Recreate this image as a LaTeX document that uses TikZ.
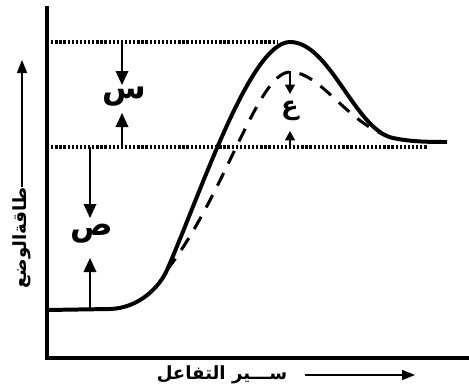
\documentclass[tikz,border=0pt]{standalone}
\usepackage{fontspec}
\newfontfamily\arabicfont[Script=Arabic]{DejaVu Sans}
\TeXXeTstate=1
\usetikzlibrary{arrows.meta, positioning, calc}
\tikzset{
    axis/.style={line width=3.2pt, line cap=rect},
    level/.style={line width=2.6pt, dash pattern=on 2pt off 1.5pt},
    mainpath/.style={line width=3.4pt, line join=round},
    catpath/.style={line width=2.6pt, dash pattern=on 12pt off 9pt},
    gap/.style={-{Triangle[length=4.2mm, width=3.8mm]}, line width=1.1pt},
    smallgap/.style={-{Triangle[length=2.8mm, width=3mm]}, line width=1.1pt},
    sym/.style={font=\arabicfont\bfseries\fontsize{27}{27}\selectfont, inner sep=0pt},
    axlbl/.style={font=\arabicfont\bfseries\fontsize{15.5}{15.5}\selectfont, inner sep=0pt},
    axarrow/.style={-{Triangle[length=3.9mm, width=3mm]}, line width=1.4pt},
}

\begin{document}
\begin{tikzpicture}[x=0.03cm, y=-0.03cm]
    \useasboundingbox (0,0) rectangle (469,390);

    % Axes
    \coordinate (O) at (47,358);
    \coordinate (Ytop) at (47,8);
    \coordinate (Xend) at (469,358);
    \draw[axis] (Ytop) -- (O) -- (Xend);

    % Energy levels
    \coordinate (hiL) at (47,42);
    \coordinate (hiR) at (277,42);
    \coordinate (prL) at (47,147);
    \coordinate (prR) at (427,147);
    \draw[level] (hiL) -- (hiR);
    \draw[level] (prL) -- (prR);

    % Reaction paths
    \draw[mainpath] (47,310) -- (110,309)
        .. controls (140,308) and (160,286) .. (167,270)
        .. controls (200,195) and (250,42) .. (290,42)
        .. controls (330,42) and (355,130) .. (393,138)
        .. controls (410,141.5) and (425,142) .. (447,142);
    \draw[catpath] (167,270)
        .. controls (225,195) and (258,72) .. (290,72)
        .. controls (320,72) and (345,120) .. (387,136);

    % Gaps
    \coordinate (sA) at (122,42);  \coordinate (sB) at (122,85);
    \coordinate (sC) at (122,147); \coordinate (sD) at (122,113);
    \draw[gap] (sA) -- (sB);
    \draw[gap] (sC) -- (sD);
    \node[sym] (sLbl) at (124,97) {\beginR س\endR};

    \coordinate (pA) at (90,147);  \coordinate (pB) at (90,218);
    \coordinate (pC) at (90,310);  \coordinate (pD) at (90,258);
    \draw[gap] (pA) -- (pB);
    \draw[gap] (pC) -- (pD);
    \node[sym] (pLbl) at (92,234) {\beginR ص\endR};

    \coordinate (eA) at (290,71);  \coordinate (eB) at (290,94);
    \coordinate (eC) at (290,147); \coordinate (eD) at (290,131);
    \draw[smallgap] (eA) -- (eB);
    \draw[smallgap] (eC) -- (eD);
    \node[sym, font=\arabicfont\bfseries\fontsize{22}{22}\selectfont] (eLbl) at (290,111) {\beginR ع\endR};

    % Axis labels
    \node[axlbl, rotate=90] (yLbl) at (22,238) {\beginR طاقةالوضع\endR};
    \coordinate (yTip) at (22,60);
    \draw[axarrow] (yLbl.east) -- (yTip);

    \node[axlbl] (xLbl) at (222,375) {\beginR ســـير التفاعل\endR};
    \coordinate (xA) at (305,375);
    \coordinate (xB) at (415,375);
    \draw[axarrow] (xA) -- (xB);
\end{tikzpicture}
\end{document}
